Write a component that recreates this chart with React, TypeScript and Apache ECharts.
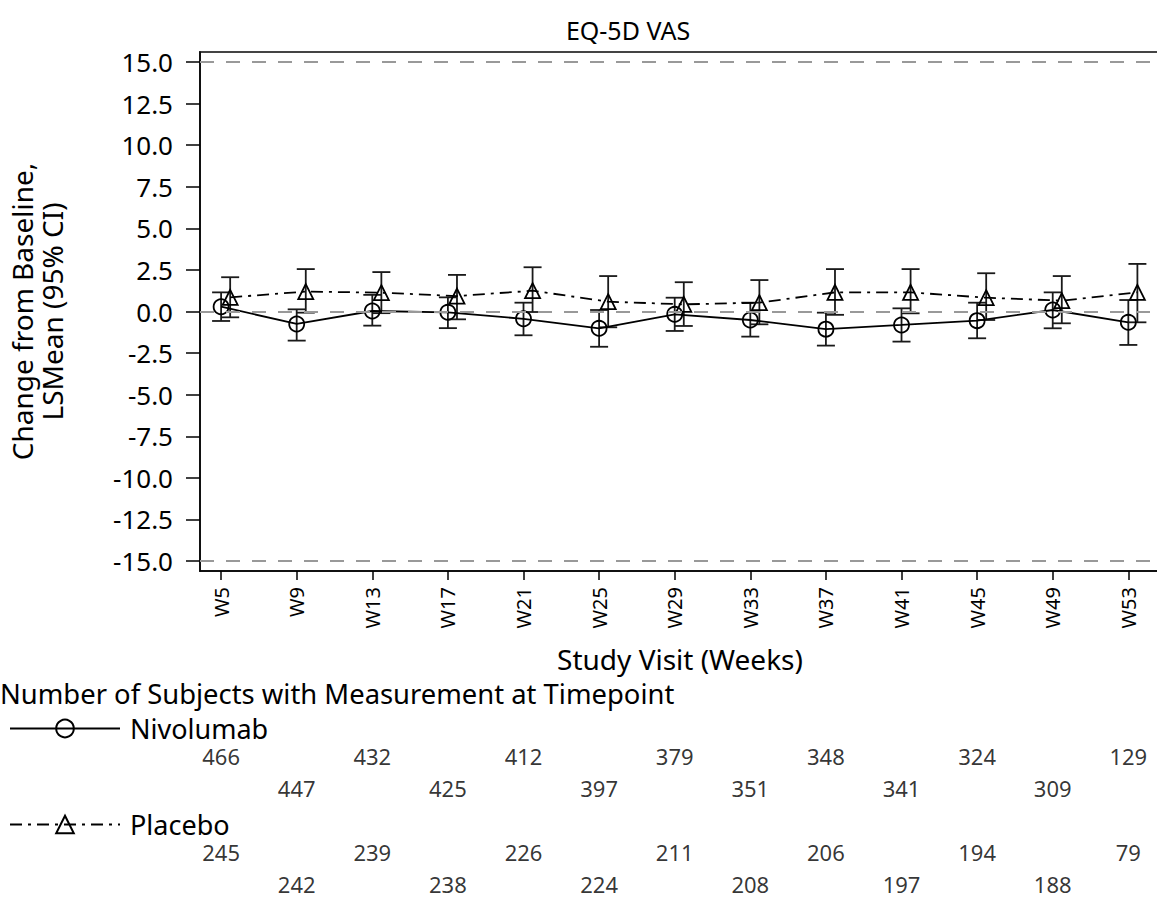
import React, { useEffect, useRef } from "react";
import * as echarts from "echarts";

const categories = ["W5", "W9", "W13", "W17", "W21", "W25", "W29", "W33", "W37", "W41", "W45", "W49", "W53"];
const nivoMean = [0.29, -0.75, 0.03, -0.05, -0.44, -1.01, -0.17, -0.51, -1.06, -0.81, -0.55, 0.09, -0.65];
const nivoLow = [-0.57, -1.75, -0.85, -1.0, -1.43, -2.12, -1.17, -1.51, -2.05, -1.81, -1.61, -1.01, -2.01];
const nivoHigh = [1.15, 0.13, 1.0, 0.85, 0.53, 0.09, 0.83, 0.53, -0.07, 0.19, 0.53, 1.15, 0.69];
const placMean = [0.85, 1.2, 1.13, 0.93, 1.25, 0.59, 0.43, 0.53, 1.15, 1.15, 0.83, 0.65, 1.15];
const placLow = [-0.35, -0.07, -0.1, -0.47, -0.03, -0.95, -0.87, -0.77, -0.2, -0.11, -0.51, -0.71, -0.65];
const placHigh = [2.06, 2.55, 2.37, 2.2, 2.66, 2.13, 1.76, 1.89, 2.55, 2.55, 2.3, 2.13, 2.86];
const nivoN = [466, 447, 432, 425, 412, 397, 379, 351, 348, 341, 324, 309, 129];
const placN = [245, 242, 239, 238, 226, 224, 211, 208, 206, 197, 194, 188, 79];
const yTicks = [-15, -12.5, -10, -7.5, -5, -2.5, 0, 2.5, 5, 7.5, 10, 12.5, 15];
const refLines = [15, 0, -15];

const FONT = "Noto Sans";
const PLAC_OFFSET = 0.12;
const X_MIN = -0.279;
const X_MAX = 12.419;

export default function App() {
  const ref = useRef<HTMLDivElement>(null);
  useEffect(() => {
    if (!ref.current) return;
    const chart = echarts.init(ref.current, undefined, { renderer: "svg" });
    const idx = categories.map((_, i) => i);

    const errRender = (params: any, api: any) => {
      const x = api.value(0);
      const lo = api.coord([x, api.value(1)]);
      const hi = api.coord([x, api.value(2)]);
      const w = 9;
      const style = { stroke: "#1a1a1a", lineWidth: 1.8, fill: "none" };
      return {
        type: "group",
        children: [
          { type: "line", shape: { x1: lo[0], y1: lo[1], x2: hi[0], y2: hi[1] }, style },
          { type: "line", shape: { x1: lo[0] - w, y1: lo[1], x2: lo[0] + w, y2: lo[1] }, style },
          { type: "line", shape: { x1: hi[0] - w, y1: hi[1], x2: hi[0] + w, y2: hi[1] }, style },
        ],
      };
    };

    const countLabel = {
      show: true,
      position: "inside",
      formatter: (p: any) => String(p.value[2]),
      fontFamily: FONT,
      fontSize: 22,
      lineHeight: 22,
      color: "#000",
      textBorderWidth: 0,
    };

    const legendText = { fontSize: 27, lineHeight: 27, fontFamily: FONT, color: "#000", padding: [0, 0, 0, 5] };

    chart.setOption({
      animation: false,
      backgroundColor: "#fff",
      textStyle: { fontFamily: FONT },
      grid: [
        {
          left: 200, top: 52, width: 960, height: 519, show: true,
          borderColor: "#444", borderWidth: 2, backgroundColor: "transparent",
          outerBoundsMode: "none", containLabel: false,
        },
        { left: 200, top: 692, width: 960, height: 192, show: false, outerBoundsMode: "none", containLabel: false },
      ],
      xAxis: [
        {
          gridIndex: 0,
          type: "value",
          min: X_MIN,
          max: X_MAX,
          axisLine: { show: true, onZero: false, lineStyle: { color: "#000", width: 1.5 } },
          axisTick: { show: true, customValues: idx, length: 9, lineStyle: { color: "#000", width: 1.5 } },
          axisLabel: {
            show: true,
            customValues: idx,
            formatter: (v: number) => categories[Math.round(v)] ?? "",
            rotate: 90,
            margin: 16,
            fontSize: 20,
            fontFamily: FONT,
            color: "#000",
          },
          splitLine: { show: false },
          name: "Study Visit (Weeks)",
          nameLocation: "middle",
          nameGap: 73,
          nameTextStyle: { fontSize: 28, lineHeight: 30, fontFamily: FONT, color: "#000" },
        },
        { gridIndex: 1, type: "value", min: X_MIN, max: X_MAX, show: false },
      ],
      yAxis: [
        {
          gridIndex: 0,
          type: "value",
          min: -15.6,
          max: 15.6,
          axisLine: { show: true, onZero: false, lineStyle: { color: "#000", width: 1.5 } },
          axisTick: { show: true, customValues: yTicks, length: 14, lineStyle: { color: "#000", width: 1.5 } },
          axisLabel: {
            show: true,
            customValues: yTicks,
            formatter: (v: number) => v.toFixed(1),
            margin: 27,
            fontSize: 26,
            fontFamily: FONT,
            color: "#000",
          },
          splitLine: { show: false },
          name: "Change from Baseline,\nLSMean (95% CI)",
          nameLocation: "middle",
          nameRotate: 90,
          nameGap: 133,
          nameTextStyle: { fontSize: 28, lineHeight: 30, fontFamily: FONT, color: "#000", align: "center" },
        },
        { gridIndex: 1, type: "value", min: 0, max: 6, inverse: true, show: false },
      ],
      legend: [
        {
          data: ["Nivolumab"],
          left: 9,
          top: 715,
          padding: 0,
          itemWidth: 110,
          itemHeight: 22,
          selectedMode: false,
          textStyle: legendText,
        },
        {
          data: ["Placebo"],
          left: 9,
          top: 811,
          padding: 0,
          itemWidth: 110,
          itemHeight: 22,
          selectedMode: false,
          textStyle: legendText,
        },
      ],
      graphic: [
        {
          type: "text",
          x: 628,
          y: 30,
          style: { text: "EQ-5D VAS", font: `25px "${FONT}"`, fill: "#000", align: "center", verticalAlign: "middle" },
        },
        {
          type: "text",
          x: 0,
          y: 693,
          style: { text: "Number of Subjects with Measurement at Timepoint", font: `27.4px "${FONT}"`, fill: "#000", align: "left", verticalAlign: "middle" },
        },
      ],
      series: [
        {
          name: "NivoCI",
          type: "custom",
          xAxisIndex: 0,
          yAxisIndex: 0,
          renderItem: errRender,
          data: idx.map((i) => [i, nivoLow[i], nivoHigh[i]]),
          z: 3,
        },
        {
          name: "PlacCI",
          type: "custom",
          xAxisIndex: 0,
          yAxisIndex: 0,
          renderItem: errRender,
          data: idx.map((i) => [i + PLAC_OFFSET, placLow[i], placHigh[i]]),
          z: 3,
        },
        {
          name: "Nivolumab",
          type: "line",
          xAxisIndex: 0,
          yAxisIndex: 0,
          data: idx.map((i) => [i, nivoMean[i]]),
          symbol: "circle",
          symbolSize: 15,
          itemStyle: { color: "rgba(0,0,0,0)", borderColor: "#000", borderWidth: 1.8 },
          lineStyle: { color: "#000", width: 1.8, type: "solid" },
          z: 4,
          markLine: {
            silent: true,
            symbol: "none",
            label: { show: false },
            lineStyle: { color: "#999", width: 2, type: [14, 12] },
            data: refLines.map((v) => ({ yAxis: v })),
          },
        },
        {
          name: "Placebo",
          type: "line",
          xAxisIndex: 0,
          yAxisIndex: 0,
          data: idx.map((i) => [i + PLAC_OFFSET, placMean[i]]),
          symbol: "triangle",
          symbolSize: 15,
          itemStyle: { color: "rgba(0,0,0,0)", borderColor: "#000", borderWidth: 1.8 },
          lineStyle: { color: "#000", width: 1.8, type: [12, 6, 3, 6] },
          z: 4,
        },
        {
          name: "NivoN",
          type: "scatter",
          xAxisIndex: 1,
          yAxisIndex: 1,
          symbolSize: 1,
          itemStyle: { color: "rgba(0,0,0,0)" },
          label: countLabel,
          data: idx.map((i) => [i, i % 2 === 0 ? 2 : 3, nivoN[i]]),
        },
        {
          name: "PlacN",
          type: "scatter",
          xAxisIndex: 1,
          yAxisIndex: 1,
          symbolSize: 1,
          itemStyle: { color: "rgba(0,0,0,0)" },
          label: countLabel,
          data: idx.map((i) => [i, i % 2 === 0 ? 5 : 6, placN[i]]),
        },
      ],
    });
    return () => chart.dispose();
  }, []);
  return <div ref={ref} style={{ position: "fixed", left: 0, top: 0, width: 1157, height: 897 }} />;
}
